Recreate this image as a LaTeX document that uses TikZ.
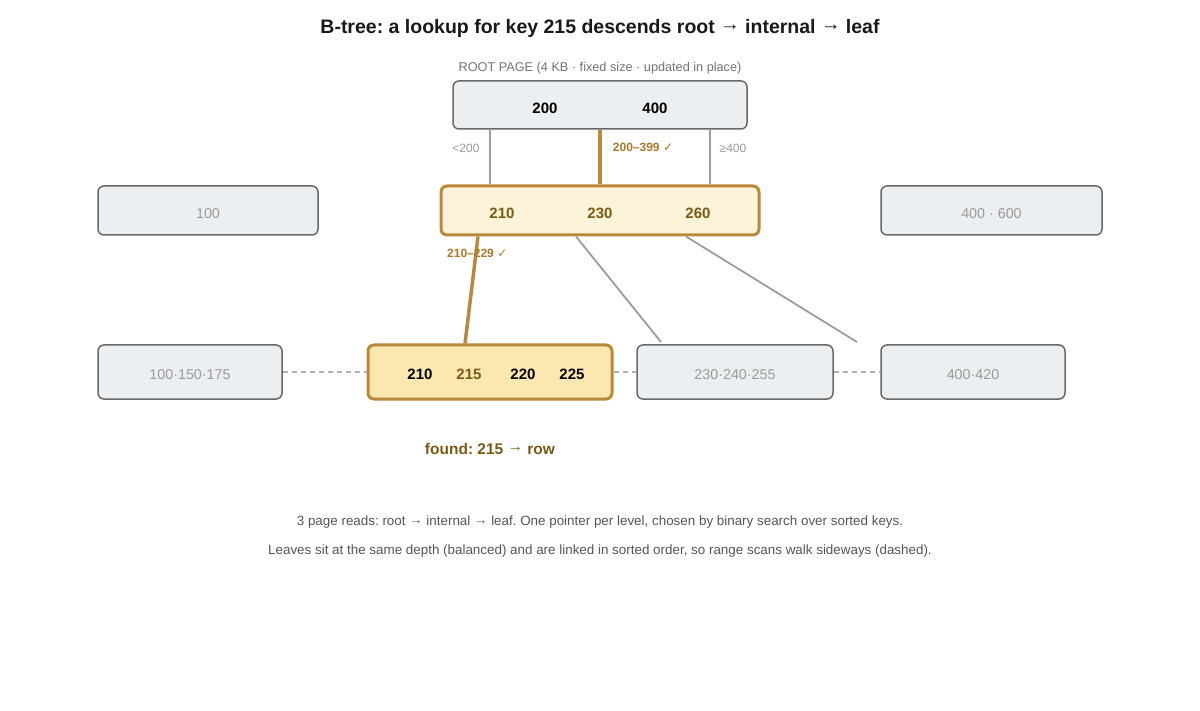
\documentclass[tikz,border=0pt]{standalone}
\usepackage{fontspec}
\setmainfont{Liberation Sans}
\newfontfamily\djv{DejaVu Sans}
\newcommand{\arr}{\raisebox{0.14em}{→}}
\newcommand{\chk}{{\djv\bfseries ✓}}
\definecolor{boxfill}{HTML}{ECEFF2}
\definecolor{boxline}{HTML}{686868}
\definecolor{graytxt}{HTML}{9A9A9A}
\definecolor{conn}{HTML}{9C9C9C}
\definecolor{gold}{HTML}{B8893A}
\definecolor{goldtxt}{HTML}{A87A2A}
\definecolor{brown}{HTML}{7A5A16}
\definecolor{cream}{HTML}{FDF3D8}
\definecolor{leafhit}{HTML}{FDE7B0}
\definecolor{notetxt}{HTML}{555555}
\definecolor{dash}{HTML}{B0B0B0}
\frenchspacing
\begin{document}
\begin{tikzpicture}[x=1pt,y=-1pt,
  page/.style={draw=boxline,line width=1.5pt,fill=boxfill,rounded corners=6pt,inner sep=0pt},
  hotpage/.style={draw=gold,line width=3pt,rounded corners=6pt,inner sep=0pt},
  key/.style={font=\fontsize{15}{18}\selectfont\bfseries,inner sep=0pt},
  dimkey/.style={font=\fontsize{14.3}{17}\selectfont,text=graytxt,inner sep=0pt},
  small/.style={font=\fontsize{12}{14}\selectfont,text=graytxt,inner sep=0pt},
  smallhot/.style={font=\fontsize{12}{14}\selectfont\bfseries,text=goldtxt,inner sep=0pt},
  thin/.style={draw=conn,line width=1.8pt},
  thick/.style={draw=gold,line width=3.5pt},
  link/.style={draw=dash,line width=1.2pt,dash pattern=on 5pt off 4pt},
  note/.style={font=\fontsize{13.4}{16}\selectfont,text=notetxt,inner sep=0pt}]
\useasboundingbox (0,0) rectangle (1200,711);

% title
\node[font=\fontsize{19.5}{23}\selectfont\bfseries,text=black!90] (title) at (600,28.5) {B-tree: a lookup for key 215 descends root \arr{} internal \arr{} leaf};

% root
\node[font=\fontsize{12.7}{15}\selectfont,text=black!55,inner sep=0pt] (rootlbl) at (600,68) {ROOT PAGE (4 KB · fixed size · updated in place)};
\node[page,minimum width=294pt,minimum height=48pt] (root) at (600,105) {};
\node[key] (r200) at (545,108) {200};
\node[key] (r400) at (655,108) {400};

% internal level
\node[page,minimum width=220pt,minimum height=49pt] (ileft) at (208,210.5) {};
\node[dimkey] (i100) at (208,213.5) {100};
\node[hotpage,fill=cream,minimum width=318pt,minimum height=49pt] (imid) at (600,210.5) {};
\node[key,text=brown] (i210) at (502,213.5) {210};
\node[key,text=brown] (i230) at (600,213.5) {230};
\node[key,text=brown] (i260) at (698,213.5) {260};
\node[page,minimum width=221pt,minimum height=49pt] (iright) at (991.5,210.5) {};
\node[dimkey] (i400) at (991.5,213.5) {400 · 600};

% leaves
\node[page,minimum width=184pt,minimum height=54pt] (l1) at (190,372) {};
\node[dimkey] (l1t) at (190,374.5) {100·150·175};
\node[hotpage,fill=leafhit,minimum width=244pt,minimum height=54pt] (l2) at (490,372) {};
\node[key] (k210) at (420,374) {210};
\node[key,text=brown] (k215) at (469,374) {215};
\node[key] (k220) at (523,374) {220};
\node[key] (k225) at (572,374) {225};
\node[page,minimum width=196pt,minimum height=54pt] (l3) at (735,372) {};
\node[dimkey] (l3t) at (735,374.5) {230·240·255};
\node[page,minimum width=184pt,minimum height=54pt] (l4) at (973,372) {};
\node[dimkey] (l4t) at (973,374.5) {400·420};

% root -> internal pointers
\draw[thin] (root.south -| 490,0) -- (imid.north -| 490,0);
\draw[thick] (root.south -| 600,0) -- (imid.north -| 600,0);
\draw[thin] (root.south -| 710,0) -- (imid.north -| 710,0);
\node[small] (lt200) at (466,148.5) {<200};
\node[smallhot] (r200399) at (643,147.5) {200–399 \chk};
\node[small] (ge400) at (733,148.5) {≥400};

% internal -> leaf pointers
\coordinate (p3end) at (661,342);
\coordinate (p4end) at (857,342);
\draw[thin] (imid.south -| 576,0) -- (p3end);
\draw[thin] (imid.south -| 686,0) -- (p4end);
\draw[thick] (imid.south -| 478,0) -- (465,343.5);
\node[smallhot,anchor=west] (r210229) at (447,253.5) {210–229 \chk};

% sibling links
\draw[link] (l1.east) -- (l2.west);
\draw[link] (l2.east) -- (l3.west);
\draw[link] (l3.east) -- (l4.west);

% result
\node[key,text=brown,font=\fontsize{15.5}{18}\selectfont\bfseries] (found) at (490,448.5) {found: 215 \arr{} row};

% notes
\node[note] (n1) at (600,522.5) {3 page reads: root \arr{} internal \arr{} leaf. One pointer per level, chosen by binary search over sorted keys.};
\node[note] (n2) at (600,551.5) {Leaves sit at the same depth (balanced) and are linked in sorted order, so range scans walk sideways (dashed).};
\end{tikzpicture}
\end{document}
